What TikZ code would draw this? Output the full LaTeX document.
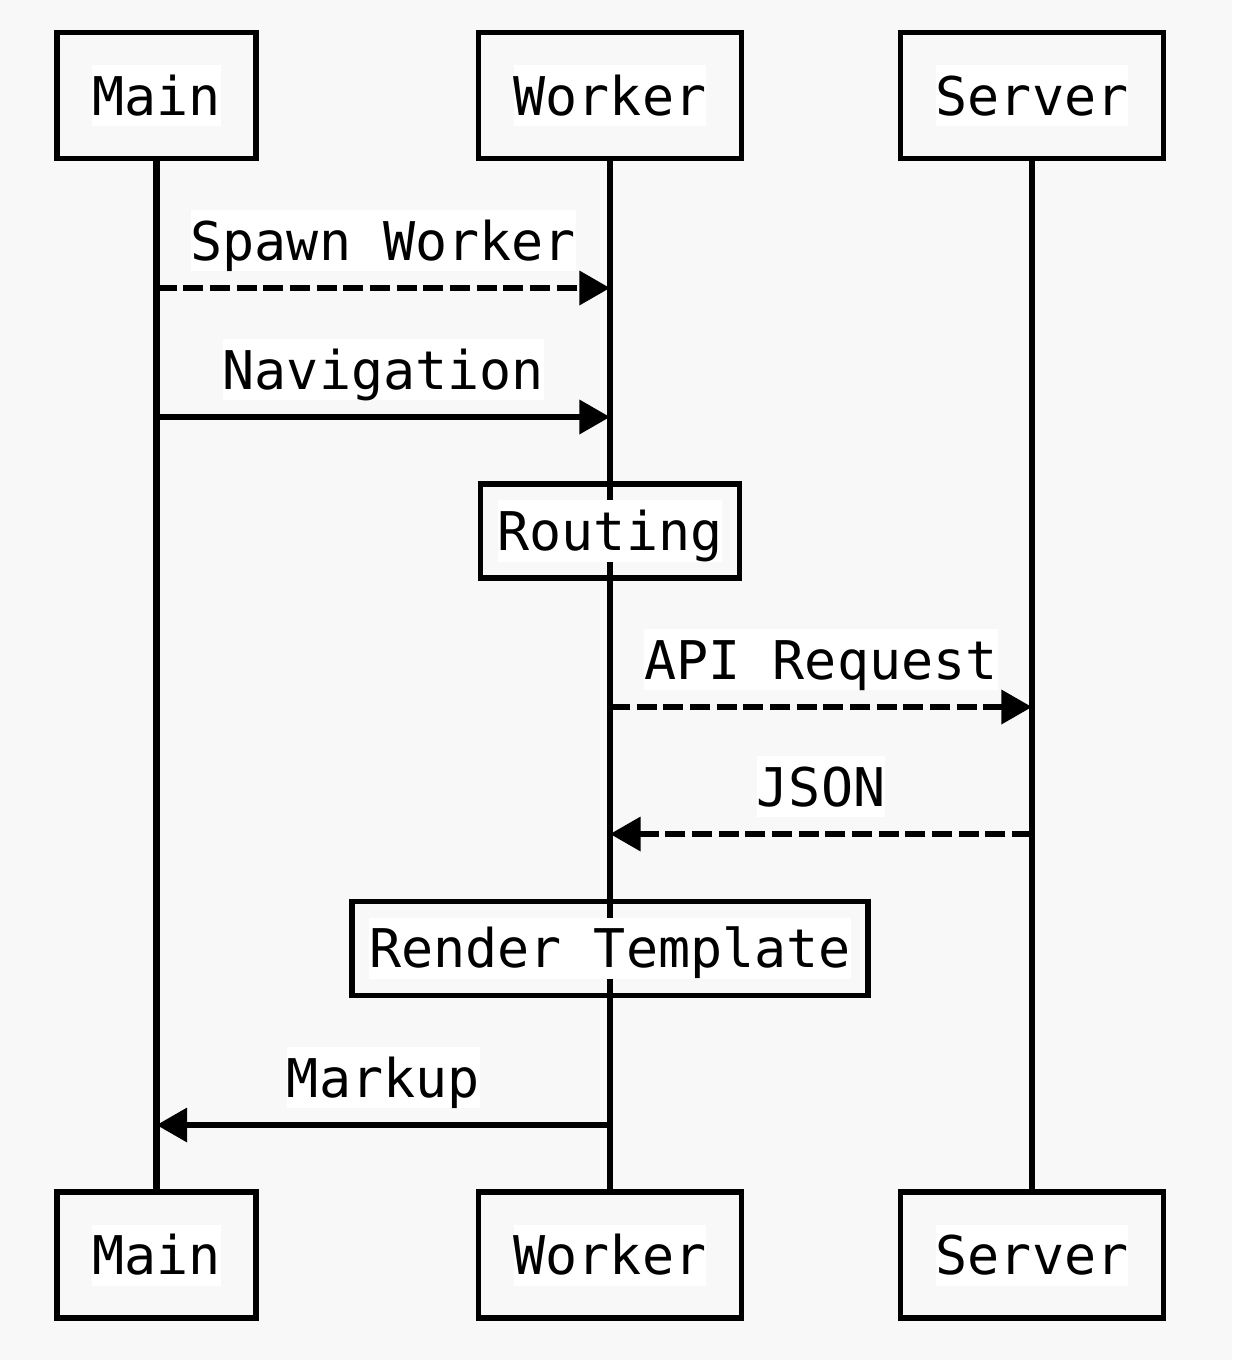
\documentclass[tikz,border=0pt]{standalone}
\usepackage{fontspec}
\setmonofont{DejaVu Sans Mono}
\usepackage{tikz}
\usetikzlibrary{positioning}
\usetikzlibrary{arrows.meta}
\definecolor{paper}{HTML}{F8F8F8}
\newcommand{\boxtext}[1]{{\setlength{\fboxsep}{0pt}\colorbox{white}{\rule[-8.25pt]{0pt}{45.75pt}#1}}}
\tikzset{every node/.style={font=\ttfamily\fontsize{40pt}{48pt}\selectfont},
         actor/.style={draw,rectangle,line width=4.4pt,inner xsep=26.4pt,minimum height=94.5pt},
         task/.style={draw,rectangle,line width=4.4pt,inner xsep=12.8pt,minimum height=70.5pt},
         msg/.style={fill=white,inner sep=0pt,text height=37.5pt,text depth=8.25pt},
         life/.style={line width=4.6pt},
         call/.style={line width=4.4pt,-{Triangle[length=23pt,width=25pt]}},
         async/.style={call,dash pattern=on 15pt off 5pt}}

\begin{document}
\begin{tikzpicture}[x=0.75pt,y=-0.75pt]
    \fill[paper] (0,0) rectangle (1232,1360);

    \node[actor] (M0) at (156.5,95.5) {\boxtext{Main}}; \node[actor] (W0)
    at (610,95.5) {\boxtext{Worker}}; \node[actor] (S0) at (1032,95.5)
    {\boxtext{Server}};

    \node[actor] (M1) at (156.5,1255) {\boxtext{Main}}; \node[actor] (W1)
    at (610,1255) {\boxtext{Worker}}; \node[actor] (S1) at (1032,1255)
    {\boxtext{Server}};

    \draw[life] (M0) -- (M1); \draw[life] (W0) -- (W1); \draw[life] (S0) -- (S1);

    \node[task] (R) at (610,531) {\boxtext{Routing}};
    \node[task] (T) at (610,948.5) {\boxtext{Render Template}};

    \coordinate (m1) at (156.5,288); \coordinate (w1) at (610,288);
    \coordinate (m2) at (156.5,417); \coordinate (w2) at (610,417);
    \coordinate (w3) at (610,707); \coordinate (s3) at (1032,707);
    \coordinate (w4) at (610,834); \coordinate (s4) at (1032,834);
    \coordinate (w5) at (610,1125); \coordinate (m5) at (156.5,1125);

    \draw[async] (m1) -- node[msg,above=10.5pt] (L1) {Spawn Worker} (w1);
    \draw[call] (m2) -- node[msg,above=10.5pt] (L2) {Navigation} (w2);
    \draw[async] (w3) -- node[msg,above=10.5pt] (L3) {API Request} (s3);
    \draw[async] (s4) -- node[msg,above=10.5pt] (L4) {JSON} (w4);
    \draw[call] (w5) -- node[msg,above=10.5pt] (L5) {Markup} (m5);


  \end{tikzpicture}
\end{document}
